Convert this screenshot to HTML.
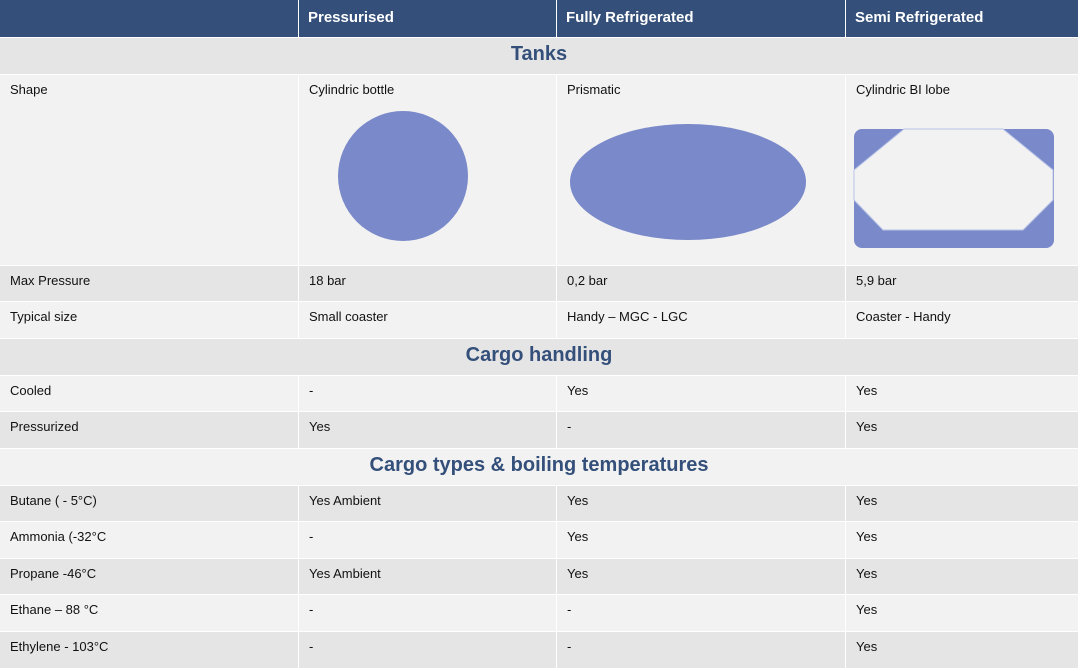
<!DOCTYPE html>
<html><head><meta charset="utf-8"><style>
body{margin:0;width:1080px;height:671px;background:#fff;position:relative;font-family:"Liberation Sans",sans-serif;overflow:hidden}
.c{position:absolute;box-sizing:border-box;font-size:13px;color:#111;padding:7px 0 0 10px;white-space:nowrap}
.h{background:#34507a;color:#fff;font-weight:bold;font-size:15px;padding:9px 0 0 9px}
.s{position:absolute;left:0;width:1078px;text-align:center;font-weight:bold;font-size:20px;color:#34507a;box-sizing:border-box;padding-top:5px}
.d{background:#e6e5e6}.l{background:#f2f2f2}
</style></head><body>
<div id="t"></div>
<script>
var cols=[[0,298],[299,556],[557,845],[846,1078]];
var rows=[
[0,37,'h',['','Pressurised','Fully Refrigerated','Semi Refrigerated']],
[38,74,'d','Tanks'],
[75,265,'l',['Shape','Cylindric bottle','Prismatic','Cylindric BI lobe']],
[266,301,'d',['Max Pressure','18 bar','0,2 bar','5,9 bar']],
[302,338,'l',['Typical size','Small coaster','Handy – MGC - LGC','Coaster - Handy']],
[339,375,'d','Cargo handling'],
[376,411,'l',['Cooled','-','Yes','Yes']],
[412,448,'d',['Pressurized','Yes','-','Yes']],
[449,485,'l','Cargo types &amp; boiling temperatures'],
[486,521,'d',['Butane ( - 5°C)','Yes Ambient','Yes','Yes']],
[522,558,'l',['Ammonia (-32°C','-','Yes','Yes']],
[559,594,'d',['Propane -46°C','Yes Ambient','Yes','Yes']],
[595,631,'l',['Ethane – 88 °C','-','-','Yes']],
[632,668,'d',['Ethylene - 103°C','-','-','Yes']]];
var h='';
rows.forEach(function(r){
 if(typeof r[3]=='string'){h+='<div class="s '+r[2]+'" style="top:'+r[0]+'px;height:'+(r[1]-r[0])+'px">'+r[3]+'</div>';}
 else r[3].forEach(function(t,i){h+='<div class="c '+r[2]+'" style="left:'+cols[i][0]+'px;width:'+(cols[i][1]-cols[i][0])+'px;top:'+r[0]+'px;height:'+(r[1]-r[0])+'px">'+t+'</div>';});
});
document.getElementById('t').innerHTML=h;
</script>
<svg style="position:absolute;left:0;top:0" width="1080" height="671">
<circle cx="403" cy="176" r="65" fill="#7a89c9"/>
<ellipse cx="688" cy="182" rx="118" ry="58" fill="#7a89c9"/>
<rect x="854" y="129" width="200" height="119" rx="8" fill="#7a89c9"/>
<polygon points="904,129 1003,129 1053,170 1053,200 1023,230 883,230 854,200 854,170" fill="#f2f2f2" stroke="#b8c4e8" stroke-width="1"/>
</svg>
</body></html>
